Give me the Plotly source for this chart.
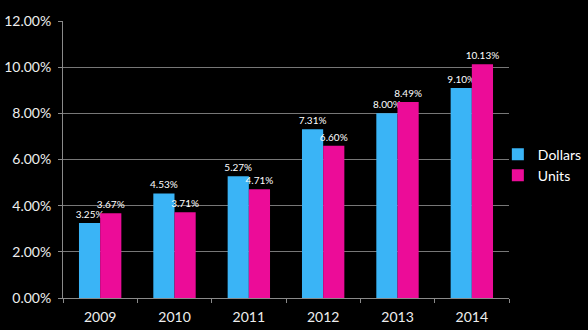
import plotly.graph_objects as go

years = ["2009", "2010", "2011", "2012", "2013", "2014"]
dollars = [3.25, 4.53, 5.27, 7.31, 8.00, 9.10]
units = [3.67, 3.71, 4.71, 6.60, 8.49, 10.13]
y_ticks = [0, 2, 4, 6, 8, 10, 12]
y_tick_labels = [f"{v:.2f}%" for v in y_ticks]

fig = go.Figure()
fig.add_trace(go.Bar(
    name="Dollars", x=years, y=dollars,
    marker=dict(color="#3AB4F6", line=dict(width=0)),
    text=[f"{v:.2f}%" for v in dollars], textposition="outside",
    textfont=dict(color="#FFFFFF", size=10, family="Lato"),
    constraintext="none", cliponaxis=False,
))
fig.add_trace(go.Bar(
    name="Units", x=years, y=units,
    marker=dict(color="#EC0C98", line=dict(width=0)),
    text=[f"{v:.2f}%" for v in units], textposition="outside",
    textfont=dict(color="#FFFFFF", size=10, family="Lato"),
    constraintext="none", cliponaxis=False,
))

fig.update_layout(
    width=588, height=330,
    margin=dict(l=63, r=79, t=21, b=32, autoexpand=False),
    paper_bgcolor="#000000", plot_bgcolor="#000000",
    barmode="group", bargap=0.43, bargroupgap=0,
    font=dict(family="Lato", color="#EEEEEE", size=14),
    legend=dict(x=0.975, xanchor="left", y=0.48, yanchor="middle",
                font=dict(size=14, color="#FFFFFF"), tracegroupgap=2,
                bgcolor="rgba(0,0,0,0)"),
    xaxis=dict(
        type="category", showgrid=False, showline=True, linecolor="#8A8A8A",
        linewidth=1, ticks="outside", tickson="boundaries", ticklen=4,
        tickcolor="#8A8A8A", tickfont=dict(size=14, color="#EEEEEE"),
        ticklabelstandoff=6, automargin=False,
    ),
    yaxis=dict(
        range=[0, 12], tickvals=y_ticks, ticktext=y_tick_labels,
        showgrid=True, gridcolor="#777777", gridwidth=1,
        showline=True, linecolor="#8A8A8A", linewidth=1,
        ticks="outside", ticklen=4, tickcolor="#8A8A8A",
        tickfont=dict(size=14, color="#EEEEEE"), zeroline=False,
        ticklabelstandoff=4, automargin=False,
    ),
)

fig.write_html("out.html")
